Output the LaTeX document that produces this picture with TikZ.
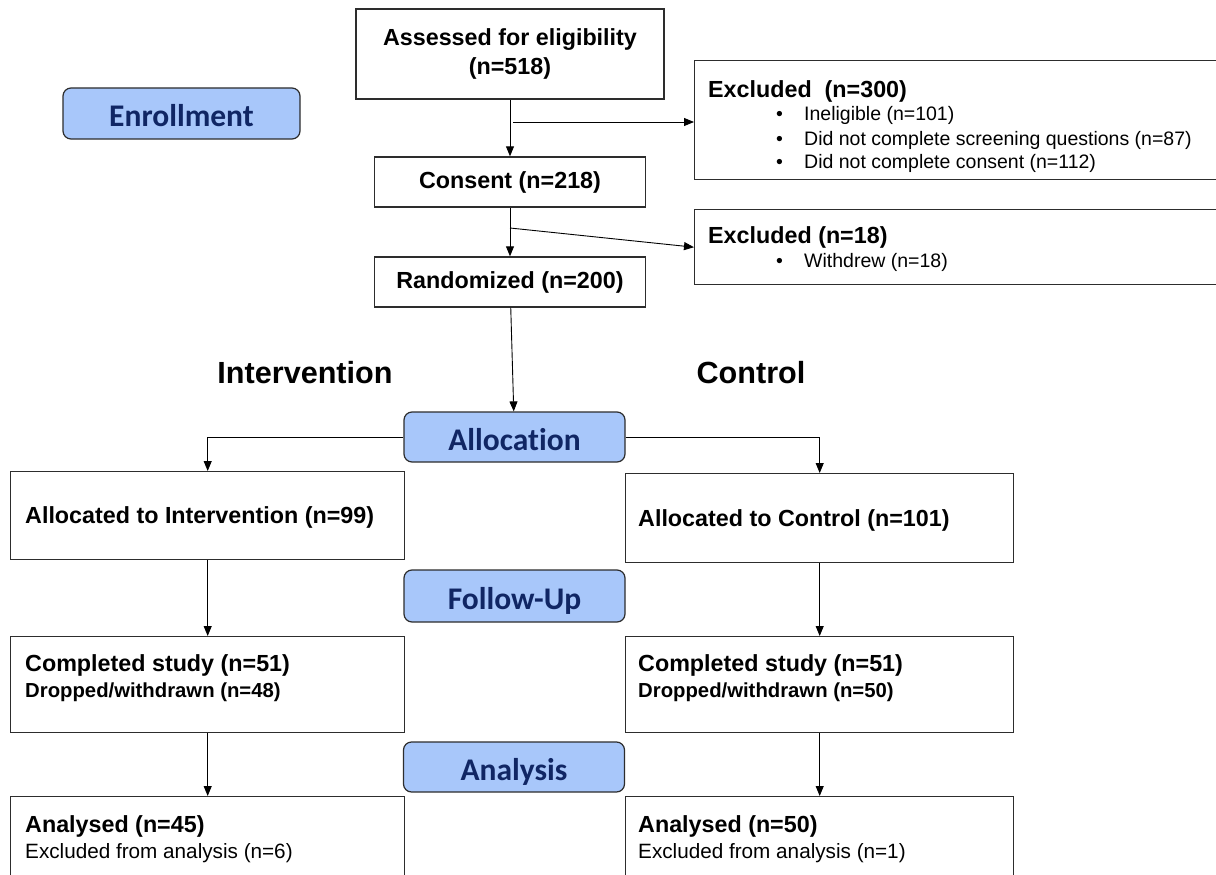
\documentclass[tikz,border=0pt]{standalone}
\usepackage{fontspec}
\setmainfont{Liberation Sans}
\newfontfamily\stagefont[Ligatures=NoCommon]{Carlito}
\usetikzlibrary{arrows.meta}

\definecolor{stagefill}{RGB}{168,199,250}
\definecolor{stagetext}{RGB}{16,38,100}
\definecolor{edgegray}{RGB}{45,45,45}

% font sizes (1pt = 1 unit of the picture)
\newcommand\fMainBold{\fontsize{23.3}{29}\selectfont\bfseries}
\newcommand\fSubBold{\fontsize{20.3}{24}\selectfont\bfseries}
\newcommand\fListReg{\fontsize{19.5}{24}\selectfont}
\newcommand\fNoteReg{\fontsize{20.7}{24}\selectfont}
\newcommand\fArmHead{\fontsize{30.6}{36}\selectfont\bfseries}

\tikzset{
  box/.style={draw=edgegray, line width=1.4pt, fill=white, inner sep=0pt,
              align=center, font=\fMainBold},
  cornerbox/.style={box, anchor=north west},
  stagebox/.style={draw=edgegray, line width=1.2pt, fill=stagefill,
                   rounded corners=8pt, text=stagetext, inner sep=0pt,
                   text height=26pt, text depth=0pt,
                   font=\stagefont\bfseries\fontsize{31.5}{36}\selectfont},
  arr/.style={-{Triangle[length=10pt,width=8pt]}, line width=0.9pt, black},
  lbl/.style={anchor=base west, inner sep=0pt},
}

\begin{document}
\begin{tikzpicture}[x=1pt,y=-1pt]
\useasboundingbox[fill=white] (0,0) rectangle (1216,875);

% ---------- enrollment ----------
\node[stagebox, minimum width=237pt, minimum height=51pt] (enroll) at (181.5,113.5) {Enrollment};

\node[box, minimum width=308pt, minimum height=90pt] (assess) at (510,54)
  {Assessed for eligibility\\(n=518)};
\node[box, minimum width=271pt, minimum height=50pt] (consent) at (510,182) {Consent (n=218)};
\node[box, minimum width=271pt, minimum height=50pt] (rand) at (510,282) {Randomized (n=200)};

\node[cornerbox, minimum width=536pt, minimum height=119pt] (excl1) at (694,60) {};
\node[lbl, font=\fMainBold] (excl1t) at (708,98) {Excluded\ \ (n=300)};
\node[lbl, font=\fListReg] (excl1b1) at (776,120) {\makebox[28pt][l]{\textbullet}Ineligible (n=101)};
\node[lbl, font=\fListReg] (excl1b2) at (776,145) {\makebox[28pt][l]{\textbullet}Did not complete screening questions (n=87)};
\node[lbl, font=\fListReg] (excl1b3) at (776,168) {\makebox[28pt][l]{\textbullet}Did not complete consent (n=112)};

\node[cornerbox, minimum width=536pt, minimum height=75pt] (excl2) at (694,209) {};
\node[lbl, font=\fMainBold] (excl2t) at (708,243) {Excluded (n=18)};
\node[lbl, font=\fListReg] (excl2b1) at (776,267) {\makebox[28pt][l]{\textbullet}Withdrew (n=18)};

\coordinate (split1) at (513,122);
\coordinate (split2) at (510,228);

\draw[arr] (assess) -- (consent);
\draw[arr] (split1) -- (split1 -| excl1.west);
\draw[arr] (consent) -- (rand);
\draw[arr] (split2) -- (excl2.west);

% ---------- arm headings ----------
\node[anchor=base, inner sep=0pt, font=\fArmHead] (armint) at (305,383) {Intervention};
\node[anchor=base, inner sep=0pt, font=\fArmHead] (armctl) at (751,383) {Control};

% ---------- allocation ----------
\node[stagebox, minimum width=221pt, minimum height=50pt] (alloc) at (514.5,437) {Allocation};
\draw[arr] (rand) -- (alloc);

\node[cornerbox, minimum width=394pt, minimum height=88pt] (intbox) at (10,471) {};
\node[lbl, font=\fMainBold] (inttext) at (25,523) {Allocated to Intervention (n=99)};
\node[cornerbox, minimum width=388pt, minimum height=89pt] (ctlbox) at (625,473) {};
\node[lbl, font=\fMainBold] (ctltext) at (638,526) {Allocated to Control (n=101)};

\draw[arr] (alloc.west) -| (intbox.north);
\draw[arr] (alloc.east) -| (ctlbox.north);

% ---------- follow-up ----------
\node[stagebox, minimum width=221pt, minimum height=52pt] (follow) at (514.5,596) {Follow-Up};

\node[cornerbox, minimum width=394pt, minimum height=96pt] (comp1) at (10,636) {};
\node[lbl, font=\fMainBold] (comp1a) at (25,671) {Completed study (n=51)};
\node[lbl, font=\fSubBold] (comp1b) at (25,697) {Dropped/withdrawn (n=48)};
\node[cornerbox, minimum width=388pt, minimum height=96pt] (comp2) at (625,636) {};
\node[lbl, font=\fMainBold] (comp2a) at (638,671) {Completed study (n=51)};
\node[lbl, font=\fSubBold] (comp2b) at (638,697) {Dropped/withdrawn (n=50)};

\draw[arr] (intbox) -- (comp1);
\draw[arr] (ctlbox) -- (comp2);

% ---------- analysis ----------
\node[stagebox, minimum width=221pt, minimum height=50pt] (analysis) at (514,767) {Analysis};

\node[cornerbox, minimum width=394pt, minimum height=100pt] (an1) at (10,796) {};
\node[lbl, font=\fMainBold] (an1a) at (25,832) {Analysed (n=45)};
\node[lbl, font=\fNoteReg] (an1b) at (25,858) {Excluded from analysis (n=6)};
\node[cornerbox, minimum width=388pt, minimum height=100pt] (an2) at (625,796) {};
\node[lbl, font=\fMainBold] (an2a) at (638,832) {Analysed (n=50)};
\node[lbl, font=\fNoteReg] (an2b) at (638,858) {Excluded from analysis (n=1)};

\draw[arr] (comp1) -- (an1);
\draw[arr] (comp2) -- (an2);
\end{tikzpicture}
\end{document}
